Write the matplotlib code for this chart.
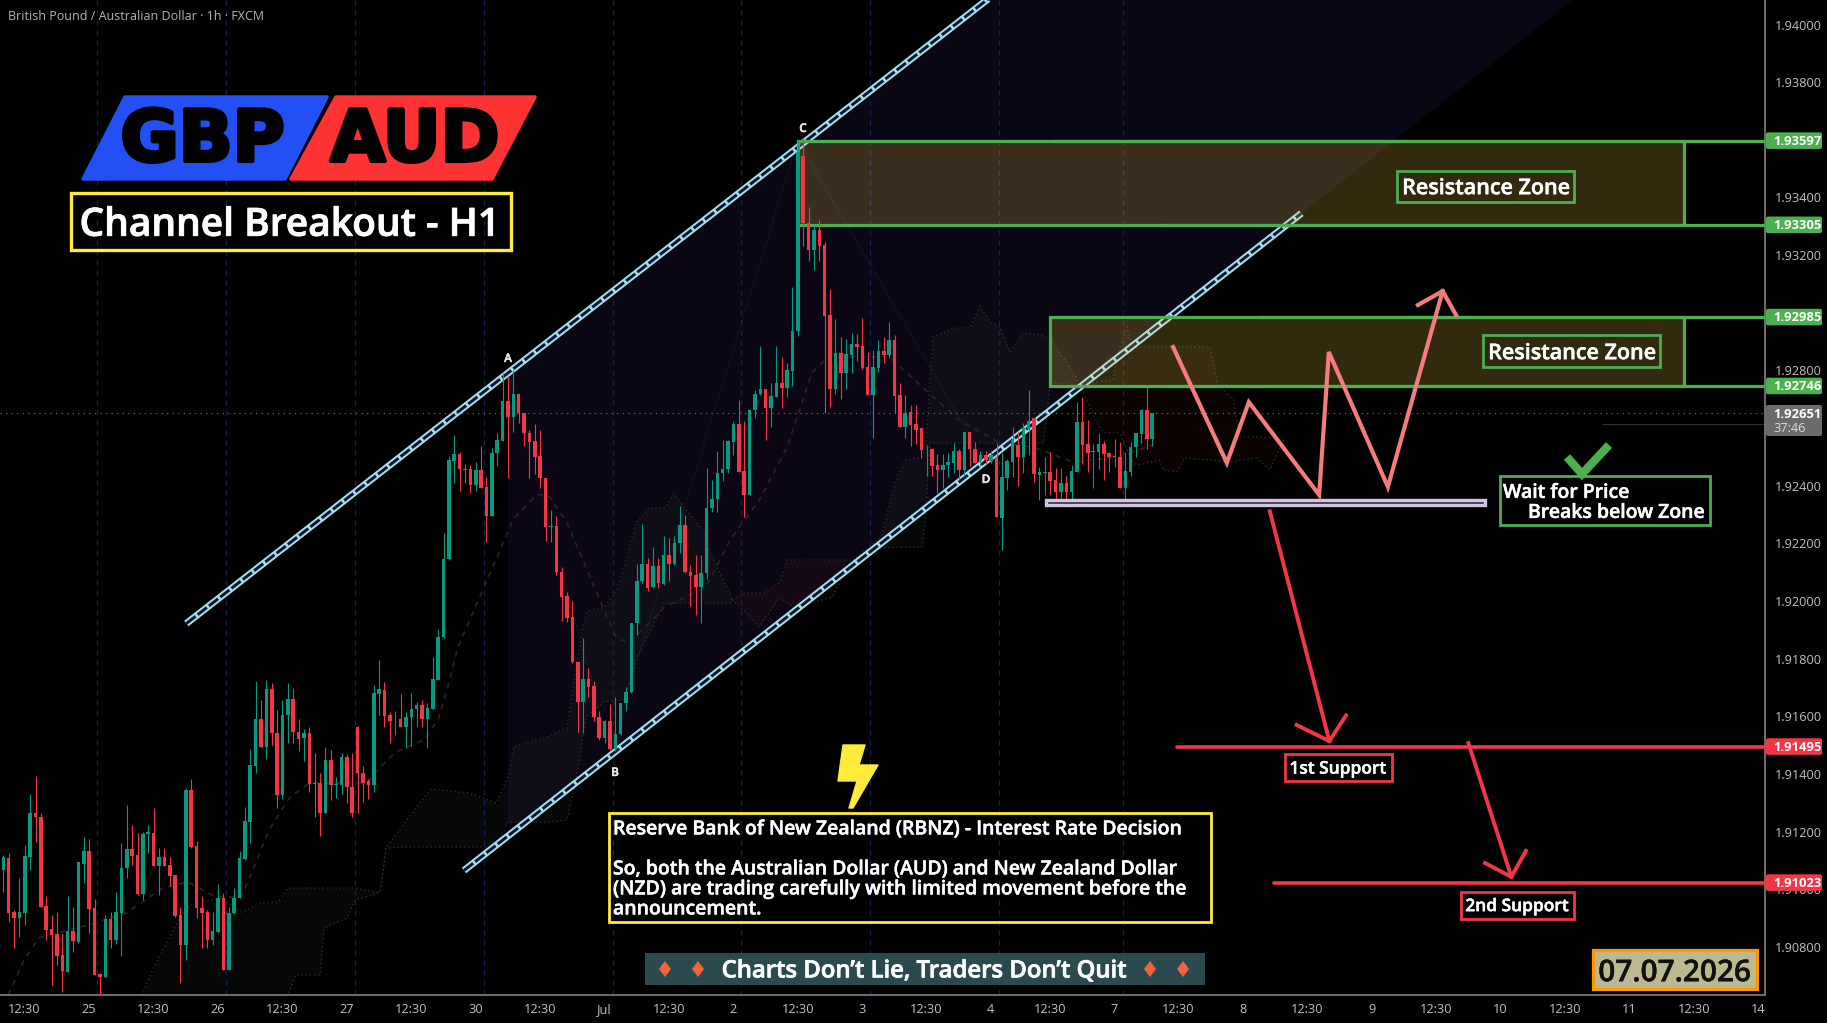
import numpy as np
import matplotlib
matplotlib.use('Agg')
import matplotlib.pyplot as plt
from matplotlib.patches import Polygon, Rectangle, FancyBboxPatch
import matplotlib.patheffects as pe

# GBP/AUD hourly candles, prices in points (1e-5)
opens = [191067,191108,190922,190899,190917,191113,191264,191250,190942,190861,190845,190772,190714,190855,190818,191088,191134,190934,190705,190697,
         190896,190824,190919,191072,191139,191119,190984,191192,191194,191081,191111,191084,191050,190911,190807,191345,191151,190936,190922,190824,
         190850,190969,190720,190917,190969,191105,191235,191429,191591,191495,191694,191541,191327,191604,191659,191547,191523,191541,191368,191368,
         191266,191449,191361,191362,191458,191353,191564,191402,191374,191362,191678,191692,191605,191589,191590,191562,191596,191624,191638,191592,
         191626,191726,191874,192145,192486,192510,192458,192457,192403,192455,192396,192296,192513,192556,192694,192640,192718,192651,192584,192556,
         192503,192426,192258,192260,192100,192018,191944,191787,191651,191729,191706,191599,191526,191584,191486,191538,191645,191683,191923,192068,
         192129,192047,192122,192060,192160,192129,192201,192264,192102,192091,192047,192097,192322,192353,192443,192457,192553,192615,192451,192368,
         192661,192718,192735,192669,192709,192756,192738,192799,192935,193544,193311,193218,193287,193235,192992,192736,192860,192792,192853,192892,
         192885,192811,192715,192807,192868,192854,192906,192715,192603,192654,192615,192600,192526,192527,192472,192455,192471,192480,192521,192453,
         192585,192527,192484,192505,192487,192501,192289,192428,192483,192541,192501,192598,192634,192438,192445,192446,192420,192379,192408,192379,
         192449,192620,192543,192518,192518,192545,192512,192503,192501,192393,192449,192533,192580,192662,192562]
closes = [191111,190919,190899,190922,191116,191266,191249,190940,190859,190842,190769,190718,190855,190821,191093,191134,190933,190703,190697,190896,
          190824,190920,191073,191139,191116,190984,191192,191197,191081,191111,191081,191046,190907,190807,191345,191146,190936,190919,190824,190855,
          190971,190720,190917,190969,191108,191237,191431,191591,191495,191694,191541,191327,191604,191659,191547,191520,191541,191365,191364,191266,
          191449,191362,191365,191458,191353,191266,191402,191370,191362,191680,191694,191601,191585,191590,191564,191597,191624,191638,191592,191628,
          191729,191874,192145,192489,192510,192457,192456,192403,192455,192393,192296,192514,192559,192694,192640,192718,192651,192584,192553,192501,
          192425,192258,192260,192099,192015,191942,191787,191651,191729,191703,191599,191526,191584,191486,191538,191645,191684,191923,192068,192129,
          192044,192120,192062,192160,192129,192201,192264,192102,192088,192047,192097,192322,192353,192443,192457,192556,192615,192449,192368,192663,
          192718,192735,192669,192712,192756,192738,192802,192938,193559,193311,193218,193287,193232,192989,192736,192860,192792,192857,192892,192881,
          192807,192715,192811,192869,192854,192906,192711,192603,192652,192611,192594,192524,192528,192469,192455,192472,192482,192519,192455,192586,
          192527,192478,192507,192490,192507,192290,192431,192486,192558,192501,192599,192624,192439,192446,192446,192417,192379,192408,192379,192451,
          192620,192541,192514,192520,192543,192510,192501,192498,192393,192451,192533,192582,192662,192562,192651]
highs = [191119,191125,190928,191038,191154,191330,191393,191264,190977,190911,190922,190847,190975,190940,191093,191183,191173,190965,190709,190911,
         190922,190992,191160,191293,191223,191194,191197,191223,191281,191142,191142,191113,191050,190940,191350,191382,191168,190975,190928,190922,
         191019,190986,190940,191003,191131,191287,191487,191723,191657,191726,191715,191622,191657,191715,191697,191592,191555,191564,191474,191402,
         191493,191483,191391,191472,191470,191472,191567,191428,191382,191709,191796,191720,191616,191619,191677,191616,191680,191651,191657,191645,
         191805,191902,192235,192503,192576,192516,192474,192472,192481,192536,192429,192530,192582,192790,192781,192802,192718,192651,192593,192614,
         192593,192426,192316,192295,192117,192030,192001,191787,191871,191767,191721,191617,191588,191643,191666,191645,191703,191925,192129,192268,
         192149,192187,192149,192226,192218,192224,192330,192299,192125,192160,192160,192461,192420,192519,192557,192559,192623,192698,192623,192663,
         192733,192885,192735,192756,192885,192846,192825,193091,193600,193605,193366,193305,193322,193247,193082,192977,192915,192908,192929,192927,
         192981,192865,192871,192906,192915,192969,192923,192758,192715,192681,192681,192600,192542,192530,192510,192510,192515,192548,192527,192588,
         192585,192553,192522,192519,192519,192548,192512,192491,192602,192587,192616,192732,192634,192464,192501,192516,192460,192460,192433,192472,
         192689,192706,192628,192543,192582,192556,192518,192561,192553,192518,192553,192582,192665,192741,192651]
lows = [190992,190888,190795,190836,190876,191067,191165,190940,190824,190668,190738,190642,190714,190784,190815,191021,190847,190703,190633,190697,
        190795,190810,190769,191038,191084,190980,190961,191125,191081,190980,191079,191012,190905,190674,190755,191142,190899,190795,190795,190807,
        190847,190720,190720,190914,190969,191102,191160,191402,191495,191451,191501,191281,191312,191507,191507,191481,191445,191339,191252,191186,
        191266,191310,191316,191331,191298,191252,191264,191304,191312,191339,191605,191564,191507,191535,191562,191489,191497,191564,191562,191489,
        191626,191726,191871,192142,192411,192380,192411,192376,192383,192393,192203,192296,192470,192556,192428,192585,192619,192536,192428,192441,
        192393,192208,192206,192090,191932,191928,191784,191547,191541,191666,191585,191518,191507,191484,191481,191536,191620,191680,191883,192062,
        192033,192044,192044,192056,192068,192125,192166,192097,191983,191952,191923,192076,192310,192310,192417,192443,192507,192449,192291,192368,
        192634,192715,192557,192605,192707,192669,192709,192746,192920,193230,193181,193149,193181,192651,192674,192718,192700,192736,192790,192831,
        192804,192715,192565,192796,192827,192842,192651,192603,192565,192536,192545,192495,192434,192432,192376,192391,192430,192443,192420,192432,
        192469,192478,192469,192476,192480,192290,192177,192385,192431,192399,192445,192506,192414,192350,192368,192368,192344,192335,192341,192335,
        192449,192477,192449,192393,192458,192420,192449,192466,192393,192331,192435,192498,192549,192526,192539]

# day grid and time axis, in bar positions
grid_bars = [17.5, 41.5, 65.5, 89.5, 113.5, 137.5, 161.5, 185.5, 208.5]
time_bars = [3.95, 15.95, 27.95, 39.95, 51.95, 63.95, 75.95, 87.95, 99.95, 111.95, 123.95, 135.95, 147.95, 159.95,
             171.95, 183.95, 194.9, 206.9, 218.9, 230.9, 242.9, 254.9, 266.9, 278.9, 290.9, 302.9, 314.9, 326.9]
time_labels = ['12:30', '25', '12:30', '26', '12:30', '27', '12:30', '30', '12:30', 'Jul', '12:30', '2', '12:30', '3',
               '12:30', '4', '12:30', '7', '12:30', '8', '12:30', '9', '12:30', '10', '12:30', '11', '12:30', '14']
price_ticks = [1.908, 1.910, 1.912, 1.914, 1.916, 1.918, 1.920, 1.922, 1.924, 1.926, 1.928, 1.930, 1.932, 1.934, 1.936, 1.938, 1.940]

# ichimoku cloud, points
green_a_x = [25.6,29.4,32.9,34.8,40.4,44.3,48.0,51.2,53.0,54.5,59.0,59.7,60.8,64.0,65.5,68.9,70.2,71.3,75.4,79.7,86.8,91.8,94.0,95.1,101.3,105.0,106.9,108.0,108.7,111.9,114.1,115.6,117.1,117.8,120.3,123.2,124.9,127.7,130.5,131.2,135.4,135.7]
green_a_top = [190633,190779,190904,190946,190970,190921,190952,190956,191004,191004,191004,191004,191004,191004,191004,190991,190991,191143,191247,191348,191334,191299,191390,191494,191528,191560,191795,191917,191962,191979,192028,192120,192212,192271,192323,192323,192371,192305,192239,192187,192021,192005]
green_a_bot = [190633,190581,190581,190581,190581,190581,190581,190581,190633,190703,190703,190859,190876,190900,190963,190980,190991,191143,191147,191147,191147,191147,191233,191233,191233,191240,191403,191542,191600,191650,191655,191657,191740,191795,191889,191993,191993,191993,191993,191993,191993,192005]
red_a_x = [135.7,138.4,140.8,141.5,144.5,144.8,146.0,147.6,154.4,155.8,158.3]
red_a_top = [192005,192028,192028,192028,192063,192073,192142,192142,192142,192142,192142]
red_a_bot = [192005,191958,191910,191930,192011,192011,191990,191976,192014,192063,192142]
green_b_x = [158.3,163.5,166.2,168.1,171.1,171.8,172.6,173.2,176.9,180.1,181.9,183.8,185.6,187.5,189.9,193.8,195.0,198.7,200.6]
green_b_top = [192142,192222,192420,192489,192500,192524,192767,192916,192947,192947,193023,192968,192951,192864,192930,192923,192906,192812,192749]
green_b_bot = [192142,192184,192187,192187,192187,192292,192548,192548,192548,192548,192548,192548,192548,192548,192548,192548,192756,192753,192749]
red_b_x = [200.6,203.7,204.8,206.7,208.0,209.3,210.4,211.3,215.4,216.0,218.6,220.1,224.8,226.1,229.1,230.4,233.5,235.9,238.7]
red_b_top = [192749,192760,192763,192767,192881,192951,192881,192881,192881,192881,192881,192881,192881,192756,192697,192569,192569,192566,192566]
red_b_bot = [192749,192618,192586,192583,192583,192524,192479,192472,192489,192455,192448,192496,192489,192486,192482,192489,192496,192455,192566]
base_x = [0.9,3.9,6.6,15.8,22.9,29.7,34.4,39.6,44.3,46.5,49.5,53.4,57.1,67.7,70.2,73.1,78.4,81.1,83.0,84.7,89.3,93.1,94.9,99.4,101.8,105.0,111.1,114.1,116.4,120.3,123.2,130.9,135.4,140.8,146.0,150.6,153.6,165.0,171.8,178.0,185.6,191.8,199.2,207.4,214.1]
base_y = [190633,190755,190831,190876,190918,191004,191025,190973,190973,191067,191206,191320,191369,191369,191424,191476,191518,191594,191716,191841,192038,192201,192281,192371,192361,192271,192004,191875,191854,191924,191979,192049,192212,192350,192534,192791,192847,192847,192732,192628,192548,192534,192482,192500,192541]

# drawing tools on the chart
upper_channel = ([34.1, 185.6], [1.91922, 1.94120])
lower_channel = ([85.8, 241.8], [1.91065, 1.93345])
pattern_x = [94.0, 185.6, 294.8, 94.0]
pattern_y = [1.92791, 1.94120, 1.94120, 1.91185]
abcd_x = [94.0, 113.0, 148.0, 183.0]
abcd_y = [1.92791, 1.91490, 1.93597, 1.92480]
res_zones = [(148.0, 313.0, 1.93305, 1.93597), (195.0, 313.0, 1.92746, 1.92985)]
res_levels = [(195.5, 1.93597), (215.8, 1.93305), (233.7, 1.92985), (216.8, 1.92746)]
sup_levels = [(218.6, 1.91495), (236.6, 1.91023)]
last_price = 1.92651
break_box = (194.3, 275.9, 1.92333, 1.92350)
zig_x = [217.9, 227.9, 232.0, 245.1, 246.9, 257.9, 268.1]
zig_y = [1.92881, 1.92479, 1.92690, 1.92368, 1.92864, 1.92396, 1.93075]
zig_head_x = [263.5, 268.1, 270.6]
zig_head_y = [1.93027, 1.93075, 1.92992]
drop1_x = [235.9, 247.0]
drop1_y = [1.92312, 1.91514]
drop1_head_x = [240.9, 247.0, 250.1]
drop1_head_y = [1.91570, 1.91514, 1.91603]
drop2_x = [272.9, 280.9]
drop2_y = [1.91507, 1.91043]
drop2_head_x = [276.0, 280.9, 283.6]
drop2_head_y = [1.91091, 1.91043, 1.91133]

BG = '#000000'
UP = '#089981'
DOWN = '#f23645'
GREEN = '#4caf50'
YELLOW = '#ffeb3b'
FONT = ['Open Sans', 'DejaVu Sans']

W, H = 1827, 1023
plt.rcParams['font.family'] = FONT
fig = plt.figure(figsize=(W / 100, H / 100), dpi=100, facecolor=BG)
ax = fig.add_axes([0, (H - 995) / H, 1765.3 / W, 995 / H], facecolor=BG)
ax.set_xlim(-0.615, 328.2)
ax.set_ylim(1.94 - 970.5 / 28825, 1.94 + 24.5 / 28825)

opens, closes, highs, lows = [np.array(a) / 1e5 for a in (opens, closes, highs, lows)]
bars = np.arange(len(opens))
colors = np.where(closes >= opens, UP, DOWN)

ax.add_patch(Polygon(list(zip(pattern_x, pattern_y)), closed=True, fc='#0a0613', ec='none', zorder=1))
ax.plot(abcd_x, abcd_y, color='#100d1c', lw=1.3, zorder=1.1)

# cloud
for xs, top, bot, col in [(green_a_x, green_a_top, green_a_bot, (0.5, 0.8, 0.6)),
                          (red_a_x, red_a_top, red_a_bot, (1, 0.35, 0.25)),
                          (green_b_x, green_b_top, green_b_bot, (0.5, 0.8, 0.6)),
                          (red_b_x, red_b_top, red_b_bot, (1, 0.35, 0.25))]:
    top, bot = np.array(top) / 1e5, np.array(bot) / 1e5
    ax.fill_between(xs, bot, top, color=col, alpha=0.045, lw=0, zorder=1.5)
    ax.plot(xs, top, color='#2c2c2c', lw=1, ls=(0, (1, 2)), zorder=1.6)
    ax.plot(xs, bot, color='#2c2c2c', lw=1, ls=(0, (1, 2)), zorder=1.6)
ax.plot(base_x, np.array(base_y) / 1e5, color='#2e1f27', lw=1.3, ls=(0, (3, 3)), zorder=1.7)

for g in grid_bars:
    ax.axvline(g, color='#10245c', lw=0.9, ls=(0, (4, 4)), zorder=1.8)

# channel rails
for xs, ys in (upper_channel, lower_channel):
    ax.plot(xs, ys, color='#a5dde8', lw=5.0, solid_capstyle='butt', zorder=2)
    ax.plot(xs, ys, color='#0b1433', lw=2.1, ls=(0, (4, 0.9)), dash_capstyle='butt', zorder=2.1)

ax.axhline(last_price, color='#7a7a7a', lw=0.8, ls=(0, (1, 4)), zorder=2.2)
ax.plot([298, 328.2], [1.92613, 1.92613], color='#333333', lw=0.8, zorder=2.2)

for x0, x1, y0, y1 in res_zones:
    ax.add_patch(Rectangle((x0, y0), x1 - x0, y1 - y0, fc=(1, 0.835, 0.31, 0.2), ec=GREEN, lw=2.3, zorder=2.5))
for x0, y in res_levels:
    ax.plot([x0, 328.2], [y, y], color=GREEN, lw=2.3, solid_capstyle='butt', zorder=2.6)
for x0, y in sup_levels:
    ax.plot([x0, 328.2], [y, y], color=DOWN, lw=2.6, solid_capstyle='round', zorder=2.6)

# candles
ax.vlines(bars, lows, highs, colors=colors, lw=0.8, zorder=3)
ax.bar(bars, np.maximum(np.abs(closes - opens), 0.00002), bottom=np.minimum(opens, closes),
       width=0.66, color=colors, lw=0, zorder=3.1)

ax.add_patch(Rectangle((break_box[0], break_box[2]), break_box[1] - break_box[0], break_box[3] - break_box[2],
                       fc='#3a2f2a', ec='#d1c4e9', lw=2.4, zorder=3.2))

# projected path
ax.plot(zig_x, zig_y, color='#f47c7c', lw=3, solid_joinstyle='miter', zorder=3.5)
ax.plot(zig_head_x, zig_head_y, color='#f47c7c', lw=3, solid_joinstyle='miter', zorder=3.5)
for xs, ys, hx, hy in [(drop1_x, drop1_y, drop1_head_x, drop1_head_y),
                       (drop2_x, drop2_y, drop2_head_x, drop2_head_y)]:
    ax.plot(xs, ys, color=DOWN, lw=2.8, zorder=3.5)
    ax.plot(hx, hy, color=DOWN, lw=2.8, solid_joinstyle='miter', zorder=3.5)

ax.set_xticks(time_bars, time_labels)
ax.set_yticks(price_ticks, [f'{p:.5f}' for p in price_ticks])
ax.yaxis.tick_right()
ax.tick_params(axis='x', length=0, pad=6, labelcolor='#c0c0c0', labelsize=9.2)
ax.tick_params(axis='y', length=0, pad=7, labelcolor='#c0c0c0', labelsize=9.2)
for side in ('top', 'left'):
    ax.spines[side].set_visible(False)
for side in ('bottom', 'right'):
    ax.spines[side].set_color('#8c8c8c')
    ax.spines[side].set_linewidth(1.1)

# overlay in pixel space for the annotations
ui = fig.add_axes([0, 0, 1, 1], facecolor='none')
ui.set_xlim(0, W)
ui.set_ylim(H, 0)
ui.axis('off')


def price_y(p):
    return 24.5 + (1.94 - p) * 28825


def note(x, y, s, size=13, color='white', weight='semibold', ha='center', stroke=0.35):
    t = ui.text(x, y + 0.17 * size, s, fontsize=size, color=color, fontweight=weight, ha=ha, va='center')
    if stroke:
        t.set_path_effects([pe.withStroke(linewidth=stroke, foreground=color)])
    return t


def box(x0, y0, x1, y1, ec, fc='none', lw=2):
    ui.add_patch(Rectangle((x0, y0), x1 - x0, y1 - y0, fc=fc, ec=ec, lw=lw))


def tag(p, s, color):
    y = price_y(p)
    ui.add_patch(FancyBboxPatch((1766, y - 8.3), 56, 16.6, boxstyle='round,pad=0,rounding_size=2', fc=color, ec='none'))
    note(1773.5, y - 1, s, size=9.4, weight='bold', ha='left', stroke=0)


for p, s in [(1.93597, '1.93597'), (1.93305, '1.93305'), (1.92985, '1.92985'), (1.92746, '1.92746')]:
    tag(p, s, GREEN)
for p, s in [(1.91495, '1.91495'), (1.91023, '1.91023')]:
    tag(p, s, DOWN)
ui.add_patch(FancyBboxPatch((1766, 405), 56, 31, boxstyle='round,pad=0,rounding_size=2', fc='#6b6b6b', ec='none'))
note(1773.5, 412.5, '1.92651', size=9.4, weight='bold', ha='left', stroke=0)
note(1773.5, 426.5, '37:46', size=9.2, weight='normal', color='#dddddd', ha='left', stroke=0)

note(8, 15, 'British Pound / Australian Dollar · 1h · FXCM', size=9, color='#b4b4b4', weight='normal', ha='left', stroke=0)

# pair badge
ui.add_patch(Polygon([(125, 97), (327, 97), (285, 179), (83, 179)], closed=True, fc='#2350f5', ec='#2350f5', lw=2.5, joinstyle='round'))
ui.add_patch(Polygon([(336, 97), (535, 97), (492, 179), (291, 179)], closed=True, fc='#ff3333', ec='#ff3333', lw=2.5, joinstyle='round'))
for x, s in [(202.5, 'GBP'), (415, 'AUD')]:
    ui.text(x, 161, s, fontsize=51, fontweight='bold', family='DejaVu Sans', color='black', ha='center', va='baseline',
            path_effects=[pe.withStroke(linewidth=3, foreground='black')])

box(71, 193, 511, 250, YELLOW, lw=2.4)
note(290, 221, 'Channel Breakout - H1', size=28, stroke=0.6)

note(1486, 186, 'Resistance Zone', size=15.5)
box(1397, 171, 1574, 202, GREEN)
note(1572, 351, 'Resistance Zone', size=15.5)
box(1483, 335, 1660, 367, GREEN)

box(1500, 476, 1710, 525, GREEN)
note(1503, 490.5, 'Wait for Price', size=14, ha='left')
note(1528, 510.5, 'Breaks below Zone', size=14, ha='left')
ui.plot([1567, 1582, 1609], [457, 474, 445], color=GREEN, lw=6, solid_joinstyle='miter', solid_capstyle='butt')

box(1285, 754, 1392, 781, DOWN)
note(1338, 767.5, '1st Support', size=12.5)
box(1461, 892, 1574, 919, DOWN)
note(1517, 905, '2nd Support', size=12.5)

# news note
ui.add_patch(Polygon([(843, 745), (865, 745), (859, 765), (878, 765), (853, 808), (849, 808), (857, 781), (838, 781)],
                     closed=True, fc=YELLOW, ec=YELLOW, lw=1, joinstyle='round'))
box(609, 813, 1211, 922, YELLOW)
note(613, 827, 'Reserve Bank of New Zealand (RBNZ) - Interest Rate Decision', size=14, ha='left')
note(613, 867, 'So, both the Australian Dollar (AUD) and New Zealand Dollar', size=14, ha='left')
note(613, 887, '(NZD) are trading carefully with limited movement before the', size=14, ha='left')
note(613, 907, 'announcement.', size=14, ha='left')

# banner and date
box(645, 953, 1205, 985, 'none', fc='#2a4a4f', lw=0)
note(924.5, 968.5, 'Charts Don’t Lie, Traders Don’t Quit', size=17.2, stroke=0.5)
for x in (665, 698, 1150, 1183):
    ui.add_patch(Polygon([(x - 6, 969), (x, 961), (x + 6, 969), (x, 977)], closed=True, fc='#f4633c', ec='none'))
box(1593, 950, 1757, 989, '#ff9800', fc='#bdb98f', lw=2.3)
note(1675, 969.5, '07.07.2026', size=21.5, color='#111111', stroke=0.3)

for x, y, s in [(508, 357, 'A'), (615, 771, 'B'), (803, 127, 'C'), (986, 478, 'D')]:
    note(x, y, s, size=8.5, color='#e8e8e8')

fig.savefig('out.png', dpi=100, facecolor=BG)
